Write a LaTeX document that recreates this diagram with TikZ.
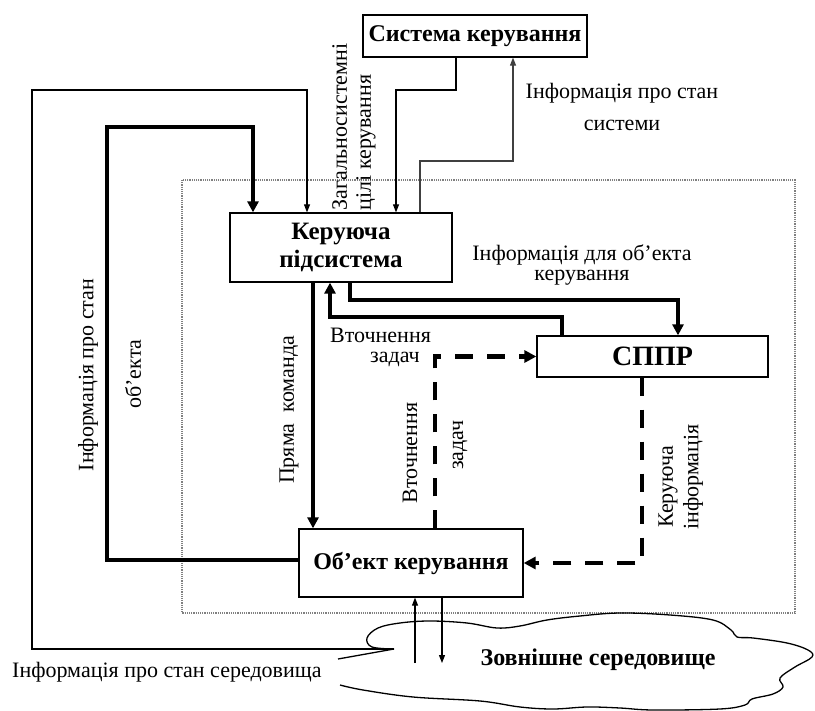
\documentclass[tikz,border=0pt]{standalone}
\usepackage{fontspec}
\setmainfont{Liberation Serif}
\usetikzlibrary{arrows.meta}
\tikzset{
  box/.style={draw=black, line width=1.3pt, fill=white, inner sep=0pt, font=\fontsize{24}{27}\selectfont\bfseries, align=center},
  lbl/.style={inner sep=0pt, font=\fontsize{22}{24}\selectfont},
  thinarrow/.style={draw=black, line width=1.1pt, -{Triangle[length=8pt,width=6pt]}},
  thickarrow/.style={draw=black, line width=4pt, -{Triangle[length=11pt,width=11pt]}},
  dasharrow/.style={draw=black, line width=4.5pt, dash pattern=on 18pt off 14pt, -{Triangle[length=12pt,width=12pt]}},
  region/.style={draw=gray, line width=1.2pt, densely dotted},
  cloudline/.style={draw=black, line width=1.3pt},
}
\begin{document}
\begin{tikzpicture}[x=1pt,y=-1pt]
\useasboundingbox (0,0) rectangle (815,711);
% dotted region
\draw[region] (182,180) rectangle (795,613);
% boxes
\node[box, minimum width=224pt, minimum height=42pt] (sys) at (475,36) {Система керування};
\node[box, minimum width=222pt, minimum height=69pt, font=\fontsize{25}{28}\selectfont\bfseries] (ksub) at (341,247.5) {Керуюча\\підсистема};
\node[box, minimum width=231pt, minimum height=41pt, font=\fontsize{28}{30}\selectfont\bfseries] (sppr) at (652.5,356.5) {СППР};
\node[box, minimum width=224pt, minimum height=68pt, font=\fontsize{24}{27}\selectfont\bfseries] (obj) at (411,563) {Об'ект керування};
% cloud
\coordinate (envjoin) at (394,649);
\draw[cloudline] (338,659) -- (envjoin)
  plot[smooth, tension=0.6] coordinates {(394,649) (372,647) (367,638) (378,628) (400,623) (430,621) (467,623) (497,628) (520,626) (547,620) (580,616) (620,613) (670,615) (713,620) (731,630) (737,637) (753,638) (787,643) (808,650) (812,657) (795,667) (780,678) (783,687) (773,694) (752,699) (745,705) (720,709) (653,710) (620,708) (587,707) (553,709) (520,707) (480,701) (413,697) (363,690) (340,685)};
\node[inner sep=0pt, font=\fontsize{24}{27}\selectfont\bfseries] (env) at (598,660) {Зовнішне середовище};
% thin connectors
\draw[thinarrow] (envjoin) -| (32,90) -| (307,0 |- ksub.north);
\draw[thinarrow] (456,0 |- sys.south) |- (396,90) -- (396,0 |- ksub.north);
\draw[thinarrow, draw=black!75] (420,0 |- ksub.north) |- (513,161) -- (513,0 |- sys.south);
\draw[thinarrow] (415,663) -- (415,0 |- obj.south);
\draw[thinarrow] (442,0 |- obj.south) -- (442,663);
% thick connectors
\draw[thickarrow] (obj.west |- 0,560) -| (107,127) -| (253,0 |- ksub.north);
\draw[thickarrow] (350,0 |- ksub.south) |- (678,300) -- (678,0 |- sppr.north);
\draw[thickarrow] (562,0 |- sppr.north) |- (330,317) -- (330,0 |- ksub.south);
\draw[thickarrow] (313,0 |- ksub.south) -- (313,0 |- obj.north);
% dashed connectors
\draw[dasharrow] (435,0 |- obj.north) |- (sppr.west);
\draw[dasharrow] (642,0 |- sppr.south) |- (obj.east);
% labels
\node[lbl, rotate=90, align=left] (goals) at (354,127) {Загальносистемні\\цілі керування};
\node[lbl, align=center, font=\fontsize{22}{32}\selectfont] (sysinfo) at (622,107) {Інформація про стан\\системи};
\node[lbl, align=center, font=\fontsize{22}{20}\selectfont] (objinfo) at (582,265) {Інформація для об'екта\\керування};
\node[lbl, rotate=90] (stateA) at (88,375) {Інформація про стан};
\node[lbl, rotate=90] (stateB) at (133,374) {об'екта};
\node[lbl, rotate=90] (direct) at (289,410) {Пряма~ команда};
\node[lbl, align=left, anchor=north west, font=\fontsize{22}{20}\selectfont] (refA) at (330,328) {Вточнення\\\hspace*{40pt}задач};
\node[lbl, rotate=90] (refC) at (410,453) {Вточнення};
\node[lbl, rotate=90] (refD) at (460,445) {задач};
\node[lbl, rotate=90, anchor=west] (ctrlA) at (668,528) {Керуюча};
\node[lbl, rotate=90, anchor=west] (ctrlB) at (693,530) {інформація};
\node[lbl, anchor=west] (envinfo) at (12,672) {Інформація про стан середовища};
\end{tikzpicture}
\end{document}
